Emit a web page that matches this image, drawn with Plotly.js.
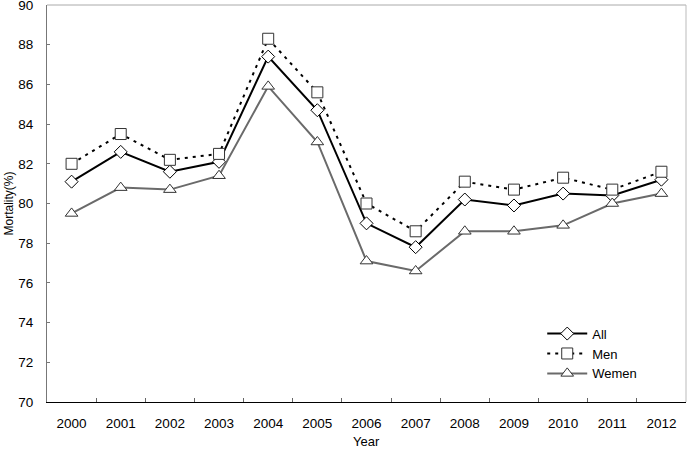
<!DOCTYPE html>
<html>
<head>
<meta charset="utf-8">
<script src="https://cdn.plot.ly/plotly-3.0.1.min.js"></script>
<style>html,body{margin:0;padding:0;background:#fff;}#chart{width:687px;height:449px;}</style>
</head>
<body>
<div id="chart"></div>
<script>
var years = ['2000','2001','2002','2003','2004','2005','2006','2007','2008','2009','2010','2011','2012'];
var allValues = [81.1, 82.6, 81.6, 82.1, 87.4, 84.7, 79.0, 77.8, 80.2, 79.9, 80.5, 80.4, 81.2];
var menValues = [82.0, 83.5, 82.2, 82.5, 88.3, 85.6, 80.0, 78.6, 81.1, 80.7, 81.3, 80.7, 81.6];
var womenValues = [79.5, 80.8, 80.7, 81.4, 85.9, 83.1, 77.1, 76.6, 78.6, 78.6, 78.9, 80.0, 80.5];
var yTicks = [70, 72, 74, 76, 78, 80, 82, 84, 86, 88, 90];

var fam = 'Liberation Sans, Arial, sans-serif';
var tickFont = {family: fam, size: 13.5, color: '#000'};
var titleFont = {family: fam, size: 13, color: '#000'};

var traces = [
  {x: years, y: allValues, name: 'All', type: 'scatter', mode: 'lines+markers',
   line: {color: '#000', width: 2},
   marker: {symbol: 'diamond', size: 10, color: '#fff', line: {color: '#000', width: 1}}},
  {x: years, y: menValues, name: 'Men', type: 'scatter', mode: 'lines+markers',
   line: {color: '#000', width: 2, dash: '3px,5px'},
   marker: {symbol: 'square', size: 11, color: '#fff', line: {color: '#333', width: 1}}},
  {x: years, y: womenValues, name: 'Wemen', type: 'scatter', mode: 'lines+markers',
   line: {color: '#6a6a6a', width: 2},
   marker: {symbol: 'triangle-up', size: 11, color: '#fff', line: {color: '#333', width: 1}}}
];

var layout = {
  width: 687, height: 449,
  margin: {l: 47, r: 1, t: 5, b: 47},
  paper_bgcolor: '#fff', plot_bgcolor: '#fff',
  font: tickFont,
  showlegend: true,
  legend: {x: 0.775, y: 0.21, xanchor: 'left', yanchor: 'top', bgcolor: 'rgba(0,0,0,0)',
           font: {family: fam, size: 13, color: '#000'},
           tracegroupgap: 0, itemwidth: 40},
  xaxis: {type: 'category', range: [-0.5, 12.5], showgrid: false, zeroline: false,
          showline: true, linecolor: '#000', linewidth: 1,
          ticks: 'inside', tickson: 'boundaries', ticklen: 4, tickcolor: '#666',
          tickfont: tickFont, ticklabelstandoff: 9},
  yaxis: {range: [70, 90], tickvals: yTicks, showgrid: false, zeroline: false,
          showline: true, linecolor: '#777', linewidth: 1,
          ticks: 'inside', ticklen: 3, tickcolor: '#777',
          tickfont: tickFont, ticklabeloverflow: 'allow', ticklabelstandoff: 10,
          title: {text: 'Mortality(%)', font: {family: fam, size: 12, color: '#000'}, standoff: 2}},
  annotations: [
    {text: 'Year', xref: 'paper', yref: 'paper', x: 0.5, y: -0.1, xanchor: 'center', yanchor: 'middle',
     showarrow: false, font: titleFont, borderpad: 0}
  ],
  shapes: [
    {type: 'line', xref: 'paper', yref: 'paper', x0: 0, x1: 1, y0: 1, y1: 1, line: {color: '#aaa', width: 1}},
    {type: 'line', xref: 'paper', yref: 'paper', x0: 1, x1: 1, y0: 0, y1: 1, line: {color: '#bbb', width: 1}}
  ]
};

Plotly.newPlot('chart', traces, layout, {displayModeBar: false, staticPlot: true});
</script>
</body>
</html>
